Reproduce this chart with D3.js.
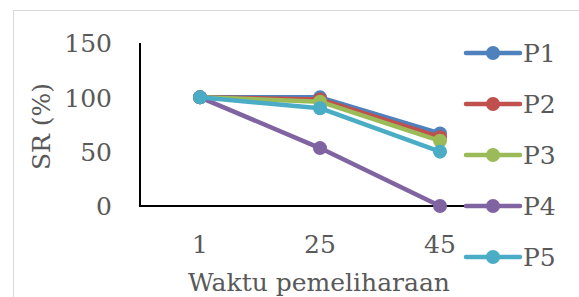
<!DOCTYPE html>
<html>
<head>
<meta charset="utf-8">
<script src="https://cdn.jsdelivr.net/npm/d3@7"></script>
<style>
  html, body { margin: 0; padding: 0; background: #fff; overflow: hidden; }
</style>
</head>
<body>
<div id="chart"></div>
<script>
const days = ["1", "25", "45"];
const seriesNames = ["P1", "P2", "P3", "P4", "P5"];
const p1 = [100, 100, 66.7];
const p2 = [100, 98, 63.3];
const p3 = [100, 96, 60];
const p4 = [100, 53.3, 0];
const p5 = [100, 90, 50];
const yTicks = [0, 50, 100, 150];
const colors = ["#4F81BD", "#C0504D", "#9BBB59", "#8064A2", "#4BACC6"];

const width = 579, height = 297;
const fontSize = 25;
const series = seriesNames.map((name, i) => ({name, values: [p1, p2, p3, p4, p5][i], color: colors[i]}));

const svg = d3.select("#chart")
    .append("svg")
    .attr("width", width)
    .attr("height", height)
    .attr("font-family", "'DejaVu Serif', serif")
    .attr("fill", "#595959");

// outer frame
svg.append("rect")
    .attr("x", 13.5).attr("y", 10.5)
    .attr("width", 600).attr("height", 320)
    .attr("fill", "none")
    .attr("stroke", "#d9d9d9");

const x = d3.scaleBand()
    .domain(days)
    .range([140, 500])
    .padding(0);

const y = d3.scaleLinear()
    .domain([0, 150])
    .range([206, 43]);

// y tick labels
svg.append("g")
    .selectAll("text")
    .data(yTicks)
    .join("text")
    .attr("x", 112)
    .attr("y", d => y(d))
    .attr("dy", "0.37em")
    .attr("text-anchor", "end")
    .attr("font-size", fontSize)
    .text(d => d);

// x tick labels
svg.append("g")
    .selectAll("text")
    .data(days)
    .join("text")
    .attr("x", d => x(d) + x.bandwidth() / 2)
    .attr("y", 253)
    .attr("text-anchor", "middle")
    .attr("font-size", fontSize)
    .text(d => d);

// axes lines
svg.append("line")
    .attr("x1", 140).attr("x2", 140)
    .attr("y1", y(150)).attr("y2", y(0))
    .attr("stroke", "#000").attr("stroke-width", 2);
svg.append("line")
    .attr("x1", 139).attr("x2", 500)
    .attr("y1", y(0)).attr("y2", y(0))
    .attr("stroke", "#000").attr("stroke-width", 2);

// axis titles
svg.append("text")
    .attr("transform", `translate(50, ${(y(0) + y(150)) / 2 + 2}) rotate(-90)`)
    .attr("text-anchor", "middle")
    .attr("font-size", fontSize)
    .text("SR (%)");

svg.append("text")
    .attr("x", 319)
    .attr("y", 291)
    .attr("text-anchor", "middle")
    .attr("font-size", fontSize)
    .text("Waktu pemeliharaan");

// lines and markers
const line = d3.line()
    .x((d, i) => x(days[i]) + x.bandwidth() / 2)
    .y(d => y(d));

const g = svg.append("g");
series.forEach(s => {
    g.append("path")
        .datum(s.values)
        .attr("fill", "none")
        .attr("stroke", s.color)
        .attr("stroke-width", 4.5)
        .attr("stroke-linejoin", "round")
        .attr("d", line);
    g.selectAll(null)
        .data(s.values)
        .join("circle")
        .attr("cx", (d, i) => x(days[i]) + x.bandwidth() / 2)
        .attr("cy", d => y(d))
        .attr("r", 7)
        .attr("fill", s.color);
});

// legend
const legend = svg.append("g")
    .selectAll("g")
    .data(series)
    .join("g")
    .attr("transform", (d, i) => `translate(0, ${53 + i * 51})`);
legend.append("line")
    .attr("x1", 466).attr("x2", 520)
    .attr("stroke", d => d.color)
    .attr("stroke-width", 4.5)
    .attr("stroke-linecap", "round");
legend.append("circle")
    .attr("cx", 493)
    .attr("r", 7)
    .attr("fill", d => d.color);
legend.append("text")
    .attr("x", 523)
    .attr("dy", "0.37em")
    .attr("font-size", fontSize)
    .text(d => d.name);
</script>
</body>
</html>
